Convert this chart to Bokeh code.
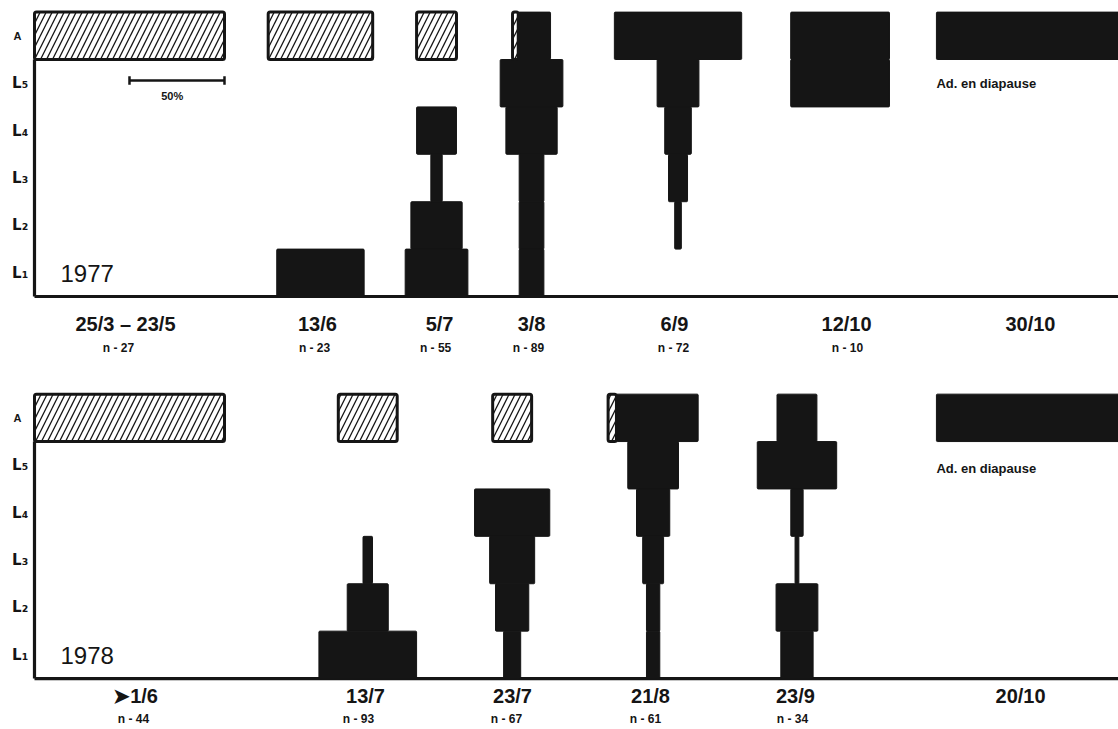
from bokeh.plotting import figure
from bokeh.models import ColumnDataSource, Range1d
from bokeh.core.properties import value
from bokeh.embed import file_html
from bokeh.resources import INLINE

# ---------------- data (widths in % of sample) ----------------
stages = ["A", "L₅", "L₄", "L₃", "L₂", "L₁"]

dates_1977 = ["25/3 – 23/5", "13/6", "5/7", "3/8", "6/9", "12/10", "30/10"]
n_1977 = [27, 23, 55, 89, 72, 10, None]
adult_repro_1977 = [100, 55, 21, 3, 0, 0, 0]      # hatched adults
adult_diap_1977 = [0, 0, 0, 17, 67, 52, 100]      # black adults (diapause)
l5_1977 = [0, 0, 0, 33, 22, 52, 0]
l4_1977 = [0, 0, 21, 27, 14, 0, 0]
l3_1977 = [0, 0, 6, 13, 10, 0, 0]
l2_1977 = [0, 0, 27, 13, 3.5, 0, 0]
l1_1977 = [0, 46, 33, 13, 0, 0, 0]

dates_1978 = ["➤1/6", "13/7", "23/7", "21/8", "23/9", "20/10"]
n_1978 = [44, 93, 67, 61, 34, None]
adult_repro_1978 = [100, 31, 20.5, 4.4, 0, 0]
adult_diap_1978 = [0, 0, 0, 43, 21, 100]
l5_1978 = [0, 0, 0, 26.7, 41.8, 0]
l4_1978 = [0, 0, 39.6, 17.5, 6.5, 0]
l3_1978 = [0, 5, 23.7, 11, 2, 0]
l2_1978 = [0, 21.6, 17.5, 7, 22, 0]
l1_1978 = [0, 51.4, 9, 7, 17, 0]

# ---------------- layout (x in % units from the axis, y in stage rows) ----------------
pos_1977 = [50, 150.5, 211.6, 261.6, 338.7, 424, 524.7]
pos_1978 = [50, 175.4, 251.4, 325.6, 401.3, 524.7]
date_x_1977 = [47.9, 148.9, 213.2, 261.6, 336.8, 427.4, 524.2]
n_x_1977 = [44.2, 147.4, 211.1, 260.0, 336.3, 427.9]
date_x_1978 = [53.2, 174.2, 251.6, 324.2, 400.5, 519.0]
n_x_1978 = [52.1, 170.5, 248.4, 321.6, 398.9]
OFF_1978 = -8.06

INK = "#151515"
FONT = value("Liberation Sans")

p = figure(width=1118, height=729,
           x_range=Range1d(-17.89, 570.53), y_range=Range1d(-9.135, 6.245),
           output_backend="svg", toolbar_location=None, min_border=0,
           x_axis_location=None, y_axis_location=None)
p.grid.visible = False
p.outline_line_color = None
p.background_fill_color = "white"


def draw_panel(off, pos, a_h, a_b, larvae, dates, date_x, ns, n_x, year, diap_y):
    bl, br, bb, bt = [], [], [], []
    hl, hr, hb, ht = [], [], [], []
    for c, h, b in zip(pos, a_h, a_b):
        tot = h + b
        left = c - tot / 2
        if h > 0:
            hl.append(left); hr.append(left + h); hb.append(off + 5); ht.append(off + 6)
        if b > 0:
            bl.append(left + h); br.append(left + tot); bb.append(off + 5); bt.append(off + 6)
    for k, arr in enumerate(larvae):
        row = 4 - k
        for c, w in zip(pos, arr):
            if w > 0:
                bl.append(c - w / 2); br.append(c + w / 2); bb.append(off + row); bt.append(off + row + 1)

    # axes
    p.line(x=[0, 0], y=[off, off + 5], line_color=INK, line_width=3.2)
    p.line(x=[0, 600], y=[off, off], line_color=INK, line_width=3.2)

    p.quad(left=bl, right=br, bottom=bb, top=bt, fill_color=INK, line_color=INK,
           line_width=1, border_radius=1)
    p.quad(left=hl, right=hr, bottom=hb, top=ht, fill_color="white", line_color=INK,
           line_width=3, hatch_pattern="/", hatch_color=INK, hatch_scale=12,
           hatch_weight=1.3, border_radius=2)

    # stage labels
    p.text(x=[-8.9], y=[off + 5.5], text=[stages[0]], text_font=FONT, text_font_style="bold",
           text_font_size="11px", text_align="center", text_baseline="middle", text_color=INK)
    p.text(x=[-11.8] * 5, y=[off + 4.5 - i for i in range(5)], text=stages[1:],
           text_font=value("DejaVu Sans"), text_font_style="bold", text_font_size="15px",
           text_align="left", text_baseline="middle", text_color=INK)

    # year
    p.text(x=[13.7], y=[off + 0.48], text=[year], text_font=FONT, text_font_size="24px",
           text_align="left", text_baseline="middle", text_color=INK)

    # date labels
    p.text(x=date_x, y=[off - (0.59 if off == 0 else 0.36)] * len(dates), text=dates,
           text_font=FONT, text_font_style="bold", text_font_size="20px",
           text_align="center", text_baseline="middle", text_color=INK)
    n_txt = ["n - %d" % v for v in ns if v is not None]
    p.text(x=n_x, y=[off - (1.08 if off == 0 else 0.86)] * len(n_txt), text=n_txt,
           text_font=FONT, text_font_style="bold", text_font_size="12px",
           text_align="center", text_baseline="middle", text_color=INK)

    # diapause note
    p.text(x=[pos[-1] - 50], y=[off + diap_y], text=["Ad. en  diapause"], text_font=FONT,
           text_font_style="bold", text_font_size="13px", text_align="left",
           text_baseline="middle", text_color=INK)


draw_panel(0, pos_1977, adult_repro_1977, adult_diap_1977,
           [l5_1977, l4_1977, l3_1977, l2_1977, l1_1977],
           dates_1977, date_x_1977, n_1977, n_x_1977, "1977", 4.49)
draw_panel(OFF_1978, pos_1978, adult_repro_1978, adult_diap_1978,
           [l5_1978, l4_1978, l3_1978, l2_1978, l1_1978],
           dates_1978, date_x_1978, n_1978, n_x_1978, "1978", 4.43)

# 50 % scale bar
scale_pct = 50
sb_y = 4.557
p.line(x=[100 - scale_pct, 100], y=[sb_y, sb_y], line_color=INK, line_width=2.5)
p.segment(x0=[100 - scale_pct, 100], x1=[100 - scale_pct, 100],
          y0=[sb_y - 0.09] * 2, y1=[sb_y + 0.09] * 2, line_color=INK, line_width=2.5)
p.text(x=[72.5], y=[4.22], text=["%d%%" % scale_pct], text_font=FONT, text_font_style="bold",
       text_font_size="11px", text_align="center", text_baseline="middle", text_color=INK)

open("out.html", "w").write(file_html(p, INLINE))
